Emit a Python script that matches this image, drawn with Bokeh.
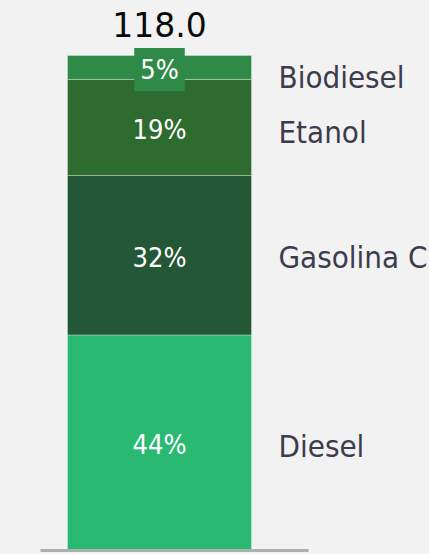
from bokeh.plotting import figure
from bokeh.models import ColumnDataSource, Range1d, GlobalInlineStyleSheet
from bokeh.core.properties import value
from bokeh.embed import file_html
from bokeh.resources import INLINE

# data (bottom to top)
fuels = ["Diesel", "Gasolina C", "Etanol", "Biodiesel"]
volumes = [51.4, 38.0, 22.9, 5.7]
shares = ["44%", "32%", "19%", "5%"]
colors = ["#29b973", "#235735", "#2e6b2e", "#2f8a48"]
total_label = "118.0"

total = sum(volumes)
bottoms, tops = [], []
acc = 0.0
for v in volumes:
    bottoms.append(acc)
    acc += v
    tops.append(acc)
mids = [(b + t) / 2 for b, t in zip(bottoms, tops)]

BG = "#f2f2f2"
W, H = 429, 554
px_per_unit_x = 184.0
bar_center_px = 159.0
bottom_px = 550.0
px_per_unit_y = (bottom_px - 55.0) / total

p = figure(width=W, height=H, output_backend="svg", toolbar_location=None,
           x_range=Range1d(-bar_center_px / px_per_unit_x, (W - bar_center_px) / px_per_unit_x),
           y_range=Range1d(-(H - bottom_px) / px_per_unit_y, bottom_px / px_per_unit_y),
           min_border=0, background_fill_color=BG, border_fill_color=BG,
           outline_line_color=None)
p.axis.visible = False
p.grid.visible = False
p.stylesheets = [GlobalInlineStyleSheet(css=f"html, body {{ margin: 0; padding: 0; background: {BG}; overflow: hidden; }}")]

src = ColumnDataSource(dict(x=[0] * len(fuels), lx=[0.5] * len(fuels),
                            bottom=bottoms, top=tops, mid=mids,
                            color=colors, share=shares, fuel=fuels,
                            label_dy=[3, 2, 5, 10]))

p.vbar(x="x", width=1.0, bottom="bottom", top="top", fill_color="color",
       line_color="white", line_alpha=0.3, line_width=1, source=src)

# baseline
p.segment(x0=[-0.647], x1=[0.81], y0=[0], y1=[0], line_color="#b0b0b0", line_width=3)

# percentages inside segments (with background box)
p.text(x="x", y="mid", text="share", source=src, text_align="center",
       text_baseline="middle", text_color="white", text_font_size="27px",
       text_font=value("DejaVu Sans Condensed"), y_offset=2,
       background_fill_color="color", padding=6)

# right labels
p.text(x="lx", y="mid", text="fuel", source=src, x_offset=27,
       y_offset="label_dy", text_align="left", text_baseline="middle",
       text_color="#3c3c4c", text_font_size="31px",
       text_font=value("DejaVu Sans Condensed"))

# total on top
p.text(x=[0], y=[total], text=[total_label], text_align="center",
       text_baseline="middle", y_offset=-31, text_color="#0a0a0a",
       text_font_size="33px", text_font=value("DejaVu Sans"))

open("out.html", "w").write(file_html(p, INLINE))
